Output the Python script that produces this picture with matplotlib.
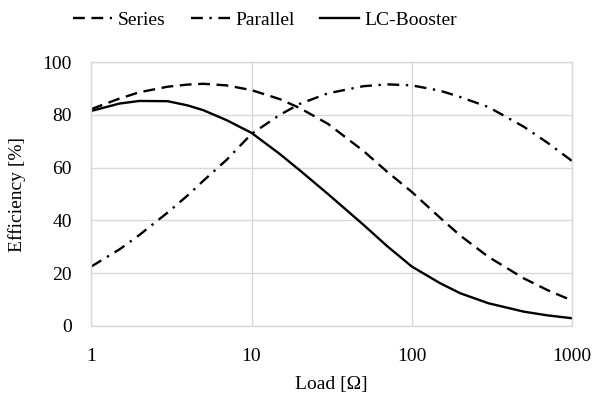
import matplotlib
matplotlib.use("Agg")
import matplotlib.pyplot as plt

# ------------------------------------------------------------
# Data
# ------------------------------------------------------------
load_ohm = [1, 1.5, 2, 3, 4, 5, 7, 10, 15, 20, 30, 50, 70, 100, 150, 200, 300, 500, 700, 1000]

series_eff = [82.2, 86.2, 88.6, 90.7, 91.5, 91.8, 91.2, 89.4, 86.0, 82.6, 76.6, 66.3, 58.5, 50.8,
              41.0, 34.3, 26.2, 18.0, 13.6, 9.6]
parallel_eff = [22.5, 29.0, 34.5, 43.0, 49.5, 55.0, 63.0, 72.8, 80.0, 84.2, 88.2, 90.9, 91.6, 91.2,
                89.2, 86.8, 83.0, 75.5, 69.5, 62.5]
booster_eff = [81.5, 84.3, 85.3, 85.2, 83.6, 81.8, 78.0, 73.2, 65.2, 59.0, 50.0, 38.3, 30.3, 22.5,
               16.2, 12.4, 8.6, 5.4, 4.0, 2.9]

x_ticks = [1, 10, 100, 1000]
y_ticks = [0, 20, 40, 60, 80, 100]

plt.rcParams["font.family"] = ["Liberation Serif", "DejaVu Serif"]
plt.rcParams["font.size"] = 14

fig = plt.figure(figsize=(5.96, 3.96), dpi=100)
ax = fig.add_axes([0.153, 0.177, 0.807, 0.666])

ax.plot(load_ohm, series_eff, color="black", lw=1.7, ls=(0, (5, 2.8)), label="Series")
ax.plot(load_ohm, parallel_eff, color="black", lw=1.7, ls=(0, (5, 2.8, 1.0, 2.8)), label="Parallel")
ax.plot(load_ohm, booster_eff, color="black", lw=1.7, label="LC-Booster")

ax.set_xscale("log")
ax.set_xlim(1, 1000)
ax.set_ylim(0, 100)
ax.set_xticks(x_ticks)
ax.set_xticklabels([str(t) for t in x_ticks])
ax.minorticks_off()
ax.set_yticks(y_ticks)
ax.tick_params(axis="x", length=0, pad=16)
ax.tick_params(axis="y", length=0, pad=14)
ax.grid(True, color="#d9d9d9", lw=1)
ax.set_axisbelow(True)
for s in ax.spines.values():
    s.set_color("#d9d9d9")
    s.set_linewidth(1)

ax.set_xlabel("Load [\u03a9]", labelpad=8)
ax.set_ylabel("Efficiency [%]", labelpad=12)

fig.legend(loc="upper center", bbox_to_anchor=(0.445, 1.015), ncol=3, frameon=False,
           handlelength=2.0, handletextpad=0.3, columnspacing=1.3)

fig.savefig("out.png", dpi=100)
